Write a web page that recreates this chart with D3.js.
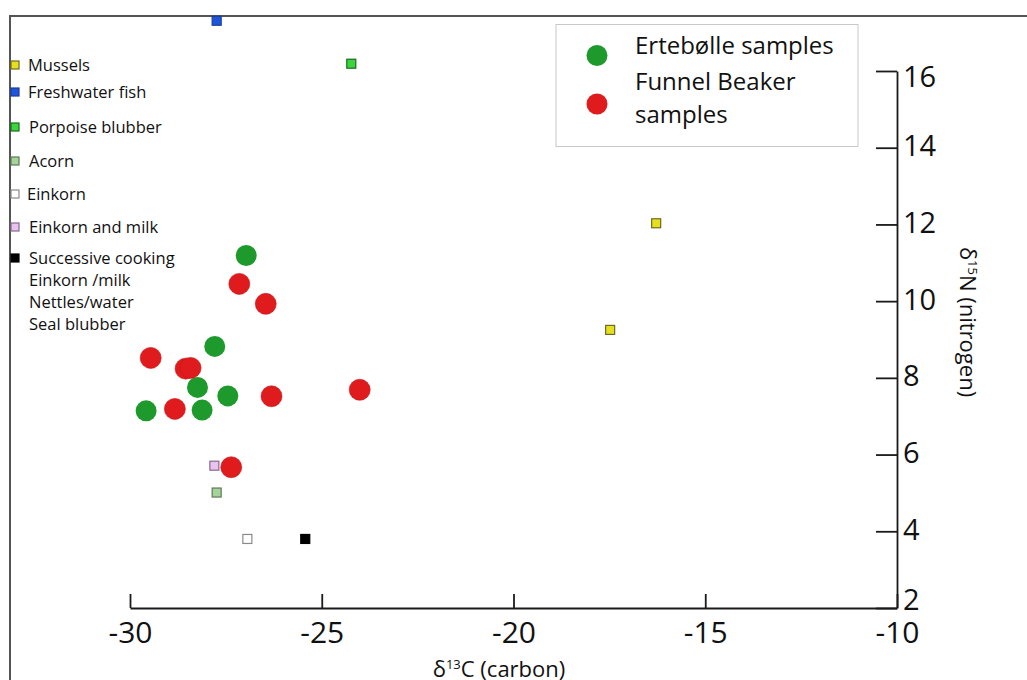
<!DOCTYPE html>
<html>
<head>
<meta charset="utf-8">
<script src="https://cdn.jsdelivr.net/npm/d3@7"></script>
<style>
  body { margin: 0; background: #fff; }
  text { font-family: "Open Sans", "Noto Sans", sans-serif; fill: #111; }
</style>
</head>
<body>
<svg id="chart"></svg>
<script>
const width = 1027, height = 680;

// Ertebølle samples [δ13C, δ15N]
const ertebolle = [
  [-26.97, 11.19], [-27.79, 8.82], [-28.24, 7.75],
  [-27.45, 7.53], [-29.58, 7.14], [-28.12, 7.16]
];

// Funnel Beaker samples [δ13C, δ15N]
const funnelBeaker = [
  [-27.15, 10.45], [-26.46, 9.93], [-29.46, 8.52],
  [-28.55, 8.24], [-28.42, 8.26], [-28.83, 7.19],
  [-26.31, 7.52], [-24.01, 7.69], [-27.36, 5.67]
];

// reference foods
const references = [
  { key: "fish", x: -27.74, y: 17.31 },
  { key: "porpoise", x: -24.23, y: 16.19 },
  { key: "mussels", x: -16.28, y: 12.03 },
  { key: "mussels", x: -17.48, y: 9.25 },
  { key: "milk", x: -27.80, y: 5.71 },
  { key: "acorn", x: -27.74, y: 5.01 },
  { key: "einkorn", x: -26.94, y: 3.80 },
  { key: "successive", x: -25.43, y: 3.80 }
];

const xTicks = [-30, -25, -20, -15, -10];
const yTicks = [2, 4, 6, 8, 10, 12, 14, 16];

const refLegend = [
  { key: "mussels", lines: ["Mussels"] },
  { key: "fish", lines: ["Freshwater fish"] },
  { key: "porpoise", lines: ["Porpoise blubber"] },
  { key: "acorn", lines: ["Acorn"] },
  { key: "einkorn", lines: ["Einkorn"] },
  { key: "milk", lines: ["Einkorn and milk"] },
  { key: "successive", lines: ["Successive cooking", "Einkorn /milk", "Nettles/water", "Seal blubber"] }
];

const refStyle = {
  mussels:    { fill: "#e6e01c", stroke: "#6f6a25" },
  fish:       { fill: "#1f55dc", stroke: "#1a3d9a" },
  porpoise:   { fill: "#39d53c", stroke: "#1d6b1f" },
  acorn:      { fill: "#a6d39c", stroke: "#5d7a58" },
  einkorn:    { fill: "#ffffff", stroke: "#8a8a8a" },
  milk:       { fill: "#e9c3f0", stroke: "#866a8c" },
  successive: { fill: "#000000", stroke: "#000000" }
};
const legendY = [65, 92, 127, 161, 194, 227, 258];
const legendX = [28, 28, 29, 29, 27, 29, 29];

const green = "#1d9a2b", red = "#e01b1d";

const svg = d3.select("#chart")
  .attr("width", width)
  .attr("height", height);

const x = d3.scaleLinear().domain([-30, -10]).range([130, 897]);
const y = d3.scaleLinear().domain([2, 16]).range([608, 71]);

// outer frame (top and left edges visible)
svg.append("path")
  .attr("d", `M10,${height}V16H${width}`)
  .attr("fill", "none")
  .attr("stroke", "#555")
  .attr("stroke-width", 2);

// x axis, ticks pointing up, plain hyphen minus
const xAxis = svg.append("g")
  .attr("transform", `translate(0,${y(2)})`)
  .call(d3.axisBottom(x).tickValues(xTicks).tickFormat(d => String(d))
    .tickSizeInner(-14).tickSizeOuter(0).tickPadding(14));
xAxis.selectAll("text").attr("font-size", 30).attr("font-family", null);

// y axis on the right, ticks pointing left
const yAxis = svg.append("g")
  .attr("transform", `translate(${x(-10)},0)`)
  .call(d3.axisRight(y).tickValues(yTicks).tickFormat(d => String(d))
    .tickSizeInner(-21).tickSizeOuter(0).tickPadding(6));
yAxis.selectAll("text").attr("font-size", 29).attr("font-family", null)
  .attr("dy", d => d === 16 ? "0.55em" : d === 2 ? "0.05em" : "0.28em");

svg.selectAll(".domain, .tick line").attr("stroke", "#1a1a1a").attr("stroke-width", 1.8);

// axis titles
const xTitle = svg.append("text")
  .attr("x", 499).attr("y", 677)
  .attr("text-anchor", "middle")
  .attr("font-size", 22);
xTitle.append("tspan").text("δ");
xTitle.append("tspan").attr("font-size", 13).attr("dy", -8).text("13");
xTitle.append("tspan").attr("dy", 8).text("C (carbon)");

const yTitle = svg.append("text")
  .attr("transform", "translate(960,322) rotate(90)")
  .attr("text-anchor", "middle")
  .attr("font-size", 22);
yTitle.append("tspan").text("δ");
yTitle.append("tspan").attr("font-size", 13).attr("dy", -8).text("15");
yTitle.append("tspan").attr("dy", 8).text("N (nitrogen)");

// reference squares
const sq = 9;
svg.append("g")
  .selectAll("rect")
  .data(references)
  .join("rect")
  .attr("x", d => x(d.x) - sq / 2)
  .attr("y", d => y(d.y) - sq / 2)
  .attr("width", sq)
  .attr("height", sq)
  .attr("fill", d => refStyle[d.key].fill)
  .attr("stroke", d => refStyle[d.key].stroke)
  .attr("stroke-width", 1.2);

// sample circles
svg.append("g")
  .selectAll("circle")
  .data(ertebolle)
  .join("circle")
  .attr("cx", d => x(d[0]))
  .attr("cy", d => y(d[1]))
  .attr("r", 10.5)
  .attr("fill", green);

svg.append("g")
  .selectAll("circle")
  .data(funnelBeaker)
  .join("circle")
  .attr("cx", d => x(d[0]))
  .attr("cy", d => y(d[1]))
  .attr("r", 10.5)
  .attr("fill", red)
  .attr("stroke", "#c41818")
  .attr("stroke-width", 0.6);

// left legend
const lg = svg.append("g");
refLegend.forEach((item, i) => {
  const s = refStyle[item.key];
  lg.append("rect")
    .attr("x", 11).attr("y", legendY[i] - 4)
    .attr("width", 8).attr("height", 8)
    .attr("fill", s.fill).attr("stroke", s.stroke).attr("stroke-width", 1.2);
  item.lines.forEach((line, j) => {
    lg.append("text")
      .attr("x", legendX[i])
      .attr("y", legendY[i] + j * 22)
      .attr("dy", "0.35em")
      .attr("font-size", 16.5)
      .text(line);
  });
});

// sample legend box
const box = svg.append("g");
box.append("rect")
  .attr("x", 556).attr("y", 24.5)
  .attr("width", 302).attr("height", 122)
  .attr("fill", "#fff")
  .attr("stroke", "#c8c8c8")
  .attr("stroke-width", 1);
box.append("circle").attr("cx", 597).attr("cy", 55.5).attr("r", 10.5).attr("fill", green);
box.append("circle").attr("cx", 597).attr("cy", 104).attr("r", 10.5).attr("fill", red);
box.append("text").attr("x", 635).attr("y", 54).attr("font-size", 24).text("Ertebølle samples");
box.append("text").attr("x", 635).attr("y", 90).attr("font-size", 24).text("Funnel Beaker");
box.append("text").attr("x", 635).attr("y", 123).attr("font-size", 24).text("samples");
</script>
</body>
</html>
